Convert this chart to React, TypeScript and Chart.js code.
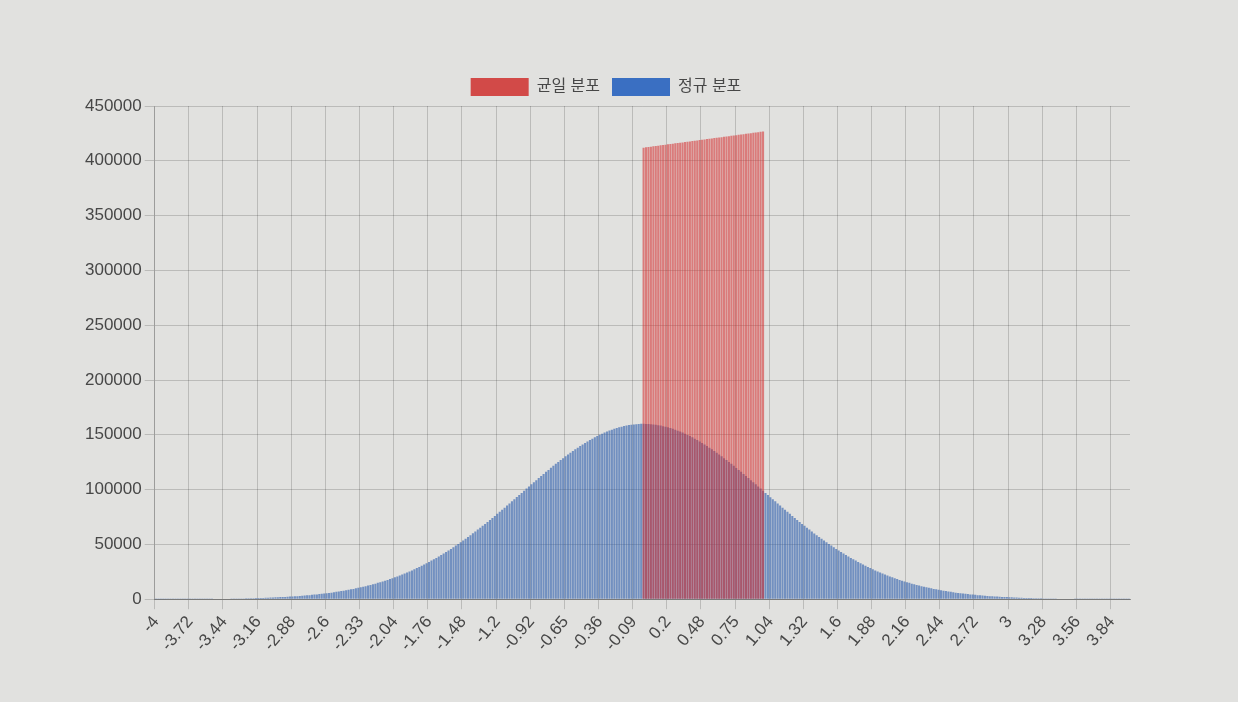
import React, { useEffect, useRef } from "react";
import { Chart, registerables } from "chart.js";

Chart.register(...registerables);

// Histogram bins: 400 bins of width 0.02 from -4.00 to 3.98
const BIN_START = -4;
const BIN_WIDTH = 0.02;
const BIN_COUNT = 400;
const LABEL_EVERY = 14;

const TICK_LABELS = [
  "-4", "-3.72", "-3.44", "-3.16", "-2.88", "-2.6", "-2.33", "-2.04", "-1.76", "-1.48",
  "-1.2", "-0.92", "-0.65", "-0.36", "-0.09", "0.2", "0.48", "0.75", "1.04", "1.32",
  "1.6", "1.88", "2.16", "2.44", "2.72", "3", "3.28", "3.56", "3.84",
];

const SERIES_NAMES = ["균일 분포", "정규 분포"];

// 정규 분포 counts, bins -4.00 ... 0.00
const NORMAL_LEFT = [
  50, 60, 60, 70, 70, 80, 90, 90, 100, 110,
  120, 130, 140, 150, 160, 170, 180, 200, 210, 230,
  250, 260, 280, 300, 330, 350, 380, 400, 430, 460,
  490, 530, 570, 600, 650, 690, 740, 790, 840, 900,
  960, 1000, 1100, 1200, 1200, 1300, 1400, 1500, 1600, 1700,
  1800, 1900, 2000, 2100, 2300, 2400, 2500, 2700, 2800, 3000,
  3200, 3400, 3500, 3700, 4000, 4200, 4400, 4700, 4900, 5200,
  5400, 5700, 6000, 6400, 6700, 7000, 7400, 7800, 8200, 8600,
  9000, 9400, 9900, 10400, 10800, 11400, 11900, 12400, 13000, 13600,
  14200, 14900, 15500, 16200, 16900, 17600, 18400, 19200, 20000, 20800,
  21700, 22500, 23400, 24400, 25300, 26300, 27300, 28400, 29400, 30500,
  31700, 32800, 34000, 35200, 36500, 37700, 39000, 40300, 41700, 43100,
  44500, 45900, 47400, 48900, 50400, 51900, 53500, 55100, 56700, 58400,
  60100, 61700, 63500, 65200, 67000, 68700, 70500, 72300, 74200, 76000,
  77900, 79800, 81600, 83500, 85500, 87400, 89300, 91200, 93200, 95100,
  97000, 99000, 100900, 102900, 104800, 106700, 108600, 110500, 112400, 114300,
  116200, 118000, 119900, 121700, 123500, 125200, 127000, 128700, 130400, 132000,
  133600, 135200, 136800, 138300, 139800, 141200, 142600, 143900, 145200, 146500,
  147700, 148900, 150000, 151000, 152000, 153000, 153900, 154700, 155500, 156200,
  156800, 157400, 158000, 158400, 158900, 159200, 159500, 159700, 159900, 160000,
  160000,
];

// 정규 분포 counts, bins 0.02 ... 3.98
const NORMAL_RIGHT = [
  159900, 159900, 159700, 159400, 159200, 158800, 158400, 157900, 157400, 156800,
  156200, 155500, 154700, 153800, 153000, 152000, 151000, 149900, 148800, 147700,
  146500, 145200, 143900, 142600, 141200, 139700, 138300, 136800, 135200, 133600,
  132000, 130400, 128700, 127000, 125200, 123500, 121700, 119800, 118000, 116200,
  114300, 112400, 110500, 108600, 106700, 104800, 102900, 100900, 99000, 97000,
  95100, 93100, 91200, 89300, 87400, 85500, 83500, 81600, 79800, 77900,
  76000, 74200, 72300, 70500, 68700, 67000, 65200, 63500, 61700, 60000,
  58400, 56700, 55100, 53500, 51900, 50400, 48900, 47400, 45900, 44500,
  43100, 41700, 40300, 39000, 37700, 36400, 35200, 34000, 32800, 31700,
  30500, 29400, 28400, 27300, 26300, 25300, 24400, 23400, 22500, 21600,
  20800, 20000, 19200, 18400, 17600, 16900, 16200, 15500, 14900, 14200,
  13600, 13000, 12400, 11900, 11400, 10800, 10400, 9900, 9400, 9000,
  8600, 8200, 7800, 7400, 7000, 6700, 6400, 6000, 5700, 5400,
  5200, 4900, 4700, 4400, 4200, 4000, 3700, 3500, 3400, 3200,
  3000, 2800, 2700, 2500, 2400, 2300, 2100, 2000, 1900, 1800,
  1700, 1600, 1500, 1400, 1300, 1200, 1200, 1100, 1000, 960,
  900, 840, 790, 740, 690, 650, 600, 570, 530, 490,
  460, 430, 400, 380, 350, 330, 300, 280, 260, 250,
  230, 210, 200, 180, 170, 160, 150, 140, 130, 120,
  110, 100, 90, 90, 80, 70, 70, 60, 60,
];

// 균일 분포 counts, bins 0.00 ... 0.98 (zero elsewhere)
const UNIFORM_FROM = 0;
const UNIFORM_TO = 1;
const UNIFORM_VALUES = [
  412000, 412300, 412600, 412900, 413200, 413500, 413800, 414100, 414400, 414700,
  415000, 415300, 415600, 415900, 416200, 416500, 416800, 417100, 417400, 417700,
  418000, 418300, 418600, 418900, 419200, 419500, 419800, 420100, 420400, 420700,
  421000, 421300, 421600, 421900, 422200, 422500, 422800, 423100, 423400, 423700,
  424000, 424300, 424600, 424900, 425200, 425500, 425800, 426100, 426400, 426700,
];

const RED_FILL = "rgba(214, 40, 40, 0.55)";
const BLUE_FILL = "rgba(40, 90, 172, 0.6)";
const RED_SOLID = "#d24a48";
const BLUE_SOLID = "#3a6fc2";
const GRID = "rgba(0, 0, 0, 0.17)";
const TEXT = "#474747";
const PAGE = "#e1e1df";

export default function App() {
  const ref = useRef<HTMLCanvasElement | null>(null);

  useEffect(() => {
    if (!ref.current) return;
    const binX: number[] = [];
    for (let i = 0; i < BIN_COUNT; i++) binX.push(Math.round((BIN_START + i * BIN_WIDTH) * 100) / 100);
    const labels = binX.map((_, i) => (i % LABEL_EVERY === 0 ? TICK_LABELS[i / LABEL_EVERY] || "" : ""));
    const normal = NORMAL_LEFT.concat(NORMAL_RIGHT);
    let u = 0;
    const uniform = binX.map((x) => (x >= UNIFORM_FROM && x < UNIFORM_TO ? UNIFORM_VALUES[u++] : 0));
    const solids = [RED_SOLID, BLUE_SOLID];
    const font = { family: "'Liberation Sans', Arial, 'Noto Sans CJK KR', sans-serif", size: 17 };

    const gridColor = (ctx: any) => {
      if (ctx.type !== "tick" || ctx.index === undefined) return "transparent";
      return labels[ctx.index] ? GRID : "transparent";
    };

    const chart = new Chart(ref.current, {
      type: "bar",
      data: {
        labels,
        datasets: [
          {
            label: SERIES_NAMES[0], data: uniform, backgroundColor: RED_FILL, borderWidth: 0,
            grouped: false, categoryPercentage: 0.85, barPercentage: 1,
          } as any,
          {
            label: SERIES_NAMES[1], data: normal, backgroundColor: BLUE_FILL, borderWidth: 0,
            grouped: false, categoryPercentage: 0.85, barPercentage: 1,
          } as any,
        ],
      },
      options: {
        animation: false,
        responsive: true,
        maintainAspectRatio: false,
        layout: { padding: { left: 82, right: 108, top: 66, bottom: 44 } },
        plugins: {
          tooltip: { enabled: false },
          legend: {
            position: "top",
            labels: {
              boxWidth: 58,
              boxHeight: 18,
              padding: 12,
              color: TEXT,
              font: { ...font, size: 16 },
              generateLabels: (c: any) => {
                const items = (Chart.defaults.plugins.legend.labels as any).generateLabels(c);
                return items.map((it: any, i: number) => ({
                  ...it,
                  fillStyle: solids[i],
                  strokeStyle: solids[i],
                  lineWidth: 0,
                }));
              },
            },
          },
        },
        scales: {
          x: {
            grid: { color: gridColor, tickColor: gridColor, offset: true, tickLength: 10 } as any,
            border: { color: "rgba(0,0,0,0.35)" },
            ticks: {
              autoSkip: false,
              minRotation: 50,
              maxRotation: 50,
              color: TEXT,
              font,
              callback: (_v: any, i: number) => labels[i],
            },
          },
          y: {
            beginAtZero: true,
            max: 450000,
            grid: { color: GRID, tickLength: 10 },
            border: { color: GRID },
            ticks: {
              stepSize: 50000,
              color: TEXT,
              font,
              callback: (v: any) => String(v),
            },
          },
        },
      },
    });
    return () => chart.destroy();
  }, []);

  return (
    <div style={{ position: "fixed", left: 0, top: 0, width: "100vw", height: "100vh", background: PAGE }}>
      <canvas ref={ref} />
    </div>
  );
}
